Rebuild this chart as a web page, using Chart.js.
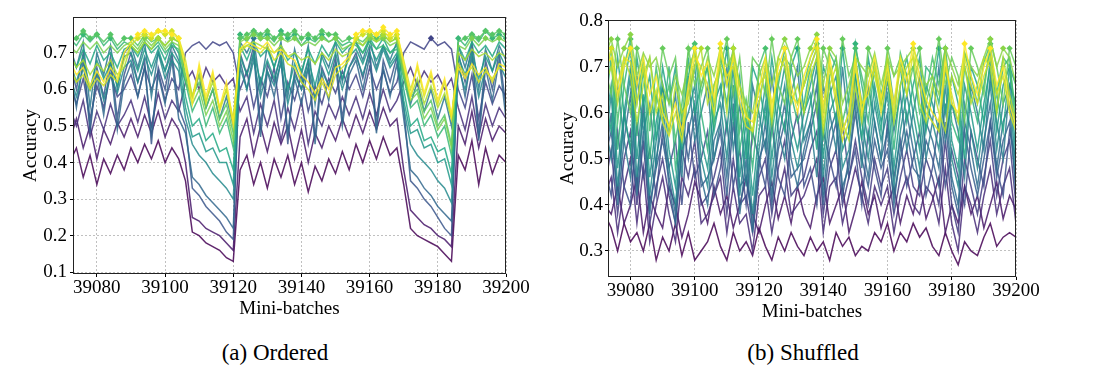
<!DOCTYPE html>
<html>
<head>
<meta charset="utf-8">
<script src="https://cdn.jsdelivr.net/npm/chart.js@4.4.1/dist/chart.umd.min.js"></script>
<style>
  body { margin: 0; background: #fff; width: 1094px; height: 378px; position: relative; overflow: hidden; font-family: 'Liberation Serif', 'Times New Roman', Times, serif; }
  #wa { position: absolute; left: 0; top: 0; }
  #wb { position: absolute; left: 540px; top: 0; }
  .cap { position: absolute; top: 339px; width: 240px; text-align: center; font-size: 23px; line-height: 28px; color: #000; }
</style>
</head>
<body>
<div id="wa"><canvas id="ordered" width="532" height="330"></canvas></div>
<div id="wb"><canvas id="shuffled" width="554" height="330"></canvas></div>
<div class="cap" style="left:155px">(a) Ordered</div>
<div class="cap" style="left:683px">(b) Shuffled</div>
<script>
// mini-batch index (every second batch)
const miniBatches = [39072,39074,39076,39078,39080,39082,39084,39086,39088,39090,39092,39094,39096,39098,39100,39102,39104,39106,39108,39110,39112,39114,39116,39118,39120,39122,39124,39126,39128,39130,39132,39134,39136,39138,39140,39142,39144,39146,39148,39150,39152,39154,39156,39158,39160,39162,39164,39166,39168,39170,39172,39174,39176,39178,39180,39182,39184,39186,39188,39190,39192,39194,39196,39198,39200];
const xTicks = [39080, 39100, 39120, 39140, 39160, 39180, 39200];
const yTicksOrdered = [0.1, 0.2, 0.3, 0.4, 0.5, 0.6, 0.7];
const yTicksShuffled = [0.3, 0.4, 0.5, 0.6, 0.7, 0.8];

// accuracy in %, (a) ordered, lowest colour index first
const ord0 = [40,44,36,42,34,41,37,42,38, 44,40,45,41,46,40,44,41, 35,21,20,18,17,16,14,13, 38,42,34,40,33,41,36,42,34,40,32,39,35,41,37,43,38, 45,40,46,41,47,42,44, 34,22,20,19,18,17,15,13, 42,38,46,34,44,37,42,40];
const ord1 = [46,52,44,50,41,49,45,51,47, 52,47,53,48,54,47,52,49, 40,25,24,22,21,20,18,16, 47,52,42,50,43,51,45,50,41,49,40,48,44,50,46,52,47, 53,48,54,49,55,50,52, 38,27,25,23,22,20,19,17, 50,45,54,44,52,46,50,48];
const ord2 = [55,50,57,47,54,49,56,50,53, 57,51,58,50,59,52,57,54, 62,65,60,66,62,64,61,63, 54,58,48,56,50,57,46,55,49,57,45,54,50,56,52,58,53, 58,52,59,53,60,54,57, 62,66,61,65,62,64,60,63, 55,49,58,47,56,50,55,52];
const ord3 = [62,56,63,52,61,55,64,58,60, 64,58,66,60,65,57,63,60, 70,72,73,71,73,72,73,70, 60,65,55,63,58,66,52,62,57,64,54,61,56,63,59,65,60, 64,58,66,60,65,59,62, 70,73,72,71,74,72,73,71, 60,55,64,52,62,56,61,58];
const ord4 = [68,60,70,48,66,58,69,52,64, 70,62,68,45,66,60,70,55, 50,33,31,28,26,24,21,19, 70,64,72,50,67,62,70,45,65,60,68,47,66,61,69,52,66, 70,63,71,50,68,62,69, 55,35,33,30,28,25,22,20, 70,62,72,48,68,60,70,55];
const ord5 = [66,55,68,50,64,53,67,49,62, 67,58,66,48,64,56,68,52, 48,36,34,31,29,27,25,22, 68,60,70,47,65,58,68,48,63,56,66,45,64,57,67,50,64, 68,60,69,48,66,58,67, 52,38,36,33,31,28,26,24, 68,58,70,46,66,57,68,52];
const ord6 = [72,66,73,55,70,64,72,60,70, 72,66,73,58,70,65,72,68, 62,58,64,55,60,52,58,50, 73,70,74,60,72,66,73,58,71,64,72,56,70,66,73,62,71, 73,68,74,66,72,68,73, 64,56,62,54,60,52,58,50, 72,66,73,60,71,65,72,68];
const ord7 = [64,58,66,60,65,57,64,59,66, 68,62,69,64,70,63,68,65, 52,45,42,40,37,35,33,30, 66,60,68,58,65,61,67,56,64,60,66,58,65,61,67,60,66, 69,64,70,65,71,66,69, 55,45,42,40,38,35,33,29, 66,60,68,58,66,62,67,63];
const ord8 = [68,62,69,60,68,63,67,61,69, 70,65,71,66,71,65,70,67, 55,47,48,43,44,40,40,34, 69,64,70,62,68,63,69,60,67,62,68,61,69,64,70,63,69, 71,67,72,68,72,67,70, 57,48,49,44,45,40,41,34, 69,64,70,63,69,65,70,66];
const ord9 = [70,66,71,67,72,68,70,66,71, 72,69,73,70,72,68,73,70, 58,50,52,46,48,43,44,38, 72,68,73,69,71,66,72,68,70,65,71,67,72,69,73,70,72, 73,70,74,71,74,70,72, 60,50,52,46,47,43,44,37, 72,68,73,70,72,69,73,71];
const ord10 = [74,72,75,73,75,72,74,71,73, 72,70,73,71,73,70,72,71, 62,54,58,50,55,48,52,44, 75,73,76,74,75,73,76,74,75,72,74,73,75,73,74,72,73, 72,70,73,71,72,70,71, 63,55,57,50,53,47,50,42, 74,72,75,73,76,74,75,74];
const ord11 = [73,74,76,74,75,73,75,72,74, 74,72,75,73,74,72,74,73, 64,58,62,55,60,52,56,48, 74,75,76,75,76,74,75,75,76,74,75,74,76,75,75,73,74, 74,73,75,74,75,73,74, 65,58,60,54,57,50,53,45, 73,74,75,74,76,75,76,75];
const ord12 = [72,70,73,71,73,70,72,70,72, 73,71,74,72,74,71,73,72, 63,56,60,53,57,50,54,46, 73,74,75,74,74,72,74,73,74,72,73,72,74,73,74,71,72, 73,72,74,73,74,72,73, 64,57,59,52,55,49,52,44, 72,71,74,72,74,73,74,73];
const ord13 = [70,66,68,64,67,65,68,64,66, 72,70,73,71,74,72,74,73, 66,58,64,57,62,55,60,52, 71,72,73,72,71,70,72,69,70,68,69,67,70,68,71,69,70, 74,72,75,73,75,73,74, 66,58,63,56,61,55,59,52, 70,68,71,69,70,68,70,69];
const ord14 = [66,62,64,60,63,61,64,62,68, 72,74,75,74,76,75,76,74, 68,58,66,56,64,54,60,50, 70,72,71,70,72,68,70,67,66,62,60,57,62,58,64,66,68, 74,75,76,75,76,74,75, 68,60,66,58,64,56,62,52, 67,64,66,62,65,63,66,65];
const ord15 = [68,64,66,61,65,62,66,63,70, 73,75,76,75,76,76,75,74, 66,56,67,58,65,55,62,51, 71,73,72,71,73,70,71,69,68,64,62,59,63,60,66,67,69, 75,76,76,75,77,75,76, 67,58,67,59,65,57,63,53, 66,63,67,64,66,62,67,66];

// accuracy in %, (b) shuffled, lowest colour index first
const shf0 = [38,35,30,36,32,34,30,36,28,33,30,36,29,34,28,30,32,36,31,28,34,30,32,29,35,31,28,33,30,34,31,29,33,30,32,28,34,31,33,29,31,30,34,32,36,30,34,32,36,33,35,31,29,34,30,27,32,30,29,33,36,31,33,34,33];
const shf1 = [40,38,44,36,40,46,34,42,38,35,44,40,33,38,45,41,36,44,38,42,35,40,46,38,34,40,45,37,42,36,44,38,35,42,46,36,40,44,34,39,45,38,42,35,40,44,36,42,38,45,37,41,46,34,40,36,44,38,42,35,40,45,37,42,39];
const shf2 = [42,46,34,44,50,36,48,32,40,46,38,32,46,42,48,36,38,42,46,34,44,36,38,30,42,44,34,42,48,38,40,42,46,50,34,44,46,36,42,48,42,36,44,40,44,34,42,46,40,38,44,42,36,48,36,30,44,40,34,42,48,38,44,48,36];
const shf3 = [44,52,38,50,56,40,54,36,44,50,42,36,52,46,54,40,42,46,52,38,50,40,42,34,46,50,38,48,54,42,44,46,52,56,38,48,52,40,46,54,46,40,50,44,48,38,46,52,44,42,50,46,40,54,40,34,50,44,38,46,54,42,50,54,40];
const shf4 = [48,42,56,44,40,58,46,52,42,56,48,54,40,58,46,50,56,42,48,58,44,52,40,56,50,44,58,46,42,54,60,44,48,40,56,50,44,58,46,52,40,56,48,42,58,46,54,44,50,56,42,48,58,44,52,46,40,56,50,44,58,48,42,56,50];
const shf5 = [50,56,42,60,52,44,62,40,48,54,46,38,58,50,60,44,46,50,56,42,58,44,46,36,50,54,40,52,58,46,48,50,56,62,40,52,58,42,50,60,50,44,54,48,52,42,50,56,48,46,54,50,44,58,44,38,56,48,42,50,58,46,54,58,44];
const shf6 = [48,60,40,54,64,42,56,38,50,58,44,36,52,56,62,46,40,54,58,46,62,38,50,34,48,58,42,54,62,50,44,52,58,66,42,56,60,44,48,64,54,46,58,50,56,40,52,60,52,44,58,54,48,62,46,40,58,52,44,54,62,48,58,62,42];
const shf7 = [58,50,66,54,46,68,56,62,48,66,56,64,46,68,54,60,66,50,58,70,52,62,44,66,60,52,68,56,50,64,70,54,58,46,66,60,52,70,56,62,48,66,58,50,68,56,64,52,60,68,50,58,70,54,62,56,46,66,60,52,68,58,50,66,62];
const shf8 = [52,64,44,58,68,46,60,42,54,62,48,40,56,60,66,50,44,58,62,50,66,42,54,38,52,62,46,58,66,54,48,56,62,70,46,60,64,48,52,68,58,50,62,54,60,44,56,64,56,48,62,58,52,66,50,44,62,56,48,58,66,52,62,66,46];
const shf9 = [56,66,48,60,70,50,64,46,58,66,52,44,60,64,70,54,48,62,66,56,70,46,58,42,56,66,50,62,70,58,52,60,66,72,50,64,68,52,56,72,62,54,66,58,64,48,60,68,60,52,66,62,56,70,54,48,66,60,52,62,70,56,66,70,50];
const shf10 = [64,56,72,60,52,72,62,68,54,70,62,70,52,72,60,66,70,56,64,74,58,68,50,70,66,58,72,62,56,70,74,60,64,52,70,66,58,74,62,68,54,72,64,56,72,62,70,58,66,72,56,64,74,60,68,62,50,70,66,58,72,64,56,70,66];
const shf11 = [60,72,52,66,74,55,70,50,64,58,70,48,56,68,74,60,52,66,70,62,73,52,60,48,62,70,55,66,74,64,58,62,70,74,54,68,72,56,60,75,66,58,70,62,68,52,66,72,64,56,70,68,62,73,58,54,70,64,58,66,74,60,70,72,56];
const shf12 = [66,74,58,70,76,62,72,56,70,60,66,54,62,73,75,64,70,58,72,66,74,56,63,54,70,74,58,68,72,70,62,66,72,75,60,73,70,58,64,74,68,62,71,64,70,58,73,68,70,60,64,72,66,74,62,58,73,68,62,71,75,64,72,70,60];
const shf13 = [70,64,76,66,60,74,68,72,62,74,68,72,58,74,66,70,74,62,70,76,64,72,58,72,70,64,76,66,62,72,76,66,70,60,74,70,64,76,68,72,60,74,70,62,74,68,72,64,70,74,62,68,76,66,72,68,58,74,70,64,76,70,62,74,70];
const shf14 = [72,76,70,74,77,68,73,70,72,66,62,68,64,70,73,66,72,68,74,70,73,66,62,60,68,72,66,72,76,72,68,70,74,77,66,74,72,62,66,72,70,68,73,66,72,68,70,72,74,70,66,68,64,74,70,66,73,70,68,72,76,70,74,72,66];
const shf15 = [66,70,62,72,68,58,66,72,60,64,56,66,60,62,70,74,62,66,70,60,74,66,60,56,66,68,58,72,70,62,66,60,68,72,56,66,70,58,54,66,58,70,68,62,72,58,66,70,72,62,58,66,60,56,68,64,70,62,66,72,70,60,72,64,58];
const shf16 = [68,74,66,72,71,62,70,60,65,58,55,60,54,64,72,70,66,60,73,68,70,62,57,56,62,70,62,68,72,64,62,66,70,74,58,70,62,54,58,70,62,64,70,60,68,60,70,64,73,66,60,58,56,70,64,58,72,66,62,68,72,64,68,60,56];
const shf17 = [70,72,64,70,74,66,72,64,68,60,57,62,56,66,74,68,71,63,75,66,72,64,59,58,65,72,60,70,74,66,60,68,72,76,61,72,64,56,60,72,60,66,72,63,70,62,72,67,75,68,63,60,58,72,62,60,75,68,64,70,74,66,70,62,57];

const orderedSeries = [ord0, ord1, ord2, ord3, ord4, ord5, ord6, ord7, ord8, ord9, ord10, ord11, ord12, ord13, ord14, ord15];
const shuffledSeries = [shf0, shf1, shf2, shf3, shf4, shf5, shf6, shf7, shf8, shf9, shf10, shf11, shf12, shf13, shf14, shf15, shf16, shf17];

// viridis colour map stops
const viridisStops = ['#440154','#482475','#414487','#355f8d','#2a788e','#21918c','#22a884','#44bf70','#7ad151','#bddf26','#fde725'];
function viridis(t) {
  const p = t * (viridisStops.length - 1);
  const i = Math.min(Math.floor(p), viridisStops.length - 2);
  const f = p - i;
  const a = viridisStops[i], b = viridisStops[i + 1];
  const c = [1, 3, 5].map(k => Math.round(parseInt(a.substr(k, 2), 16) * (1 - f) + parseInt(b.substr(k, 2), 16) * f));
  return 'rgb(' + c.join(',') + ')';
}
const F = "'Liberation Serif', 'Times New Roman', Times, serif";

const frame = {
  id: 'frame',
  afterDatasetsDraw(chart) {
    const { ctx, chartArea: a } = chart;
    ctx.save();
    ctx.strokeStyle = '#222';
    ctx.lineWidth = 1;
    ctx.strokeRect(Math.round(a.left) + 0.5, Math.round(a.top) + 0.5, Math.round(a.right - a.left) - 1, Math.round(a.bottom - a.top) - 1);
    ctx.restore();
  }
};

function makeDatasets(series) {
  const n = series.length;
  return series.map((vals, i) => {
    const col = viridis(i / (n - 1));
    return {
      data: miniBatches.map((x, k) => ({ x: x, y: vals[k] / 100 })),
      borderColor: col.replace('rgb', 'rgba').replace(')', ',0.85)'),
      borderWidth: 1.5,
      tension: 0,
      pointStyle: 'rectRot',
      pointRadius: c => (c.raw && c.raw.y >= 0.74 ? 3.2 : 0),
      pointBorderWidth: 0,
      pointBackgroundColor: col,
      order: n - 1 - i
    };
  });
}

function makeChart(id, series, g) {
  new Chart(document.getElementById(id), {
    type: 'line',
    data: { datasets: makeDatasets(series) },
    plugins: [frame],
    options: {
      responsive: false,
      animation: false,
      devicePixelRatio: 1,
      events: [],
      layout: { padding: { top: g.top, right: g.right, left: 0, bottom: 0 } },
      plugins: { legend: { display: false }, tooltip: { enabled: false } },
      scales: {
        x: {
          type: 'linear', min: 39073, max: 39200,
          afterBuildTicks: s => { s.ticks = xTicks.map(v => ({ value: v })); },
          afterFit: s => { s.height = g.xh; },
          ticks: { color: '#000', font: { family: F, size: 19 }, padding: 0, maxRotation: 0, autoSkip: false, callback: v => String(v) },
          grid: { color: '#b0b0b0', lineWidth: 0.8, tickLength: 3, tickColor: '#000', tickWidth: 1, tickBorderDash: [] },
          border: { display: false, dash: [2, 2] },
          title: { display: true, text: 'Mini-batches', color: '#000', font: { family: F, size: 19 }, padding: { top: 0, bottom: g.xtp } }
        },
        y: {
          type: 'linear', min: g.ymin, max: g.ymax,
          afterBuildTicks: s => { s.ticks = g.yt.map(v => ({ value: v })); },
          afterFit: s => { s.width = g.yw; },
          ticks: { color: '#000', font: { family: F, size: 19 }, padding: g.ytp, callback: v => v.toFixed(1) },
          grid: { color: '#b0b0b0', lineWidth: 0.8, tickLength: 3, tickColor: '#000', tickWidth: 1, tickBorderDash: [] },
          border: { display: false, dash: [2, 2] },
          title: { display: true, text: 'Accuracy', color: '#000', font: { family: F, size: 19 }, padding: { top: g.ttp, bottom: 0 } }
        }
      }
    }
  });
}

makeChart('ordered', orderedSeries, { top: 17, right: 26, xh: 56, yw: 73, ymin: 0.0953, ymax: 0.798, yt: yTicksOrdered, xtp: 10, ytp: 3, ttp: 20 });
makeChart('shuffled', shuffledSeries, { top: 20, right: 78, xh: 53, yw: 68, ymin: 0.2435, ymax: 0.8015, yt: yTicksShuffled, xtp: 7, ytp: 2, ttp: 17 });
</script>
</body>
</html>
